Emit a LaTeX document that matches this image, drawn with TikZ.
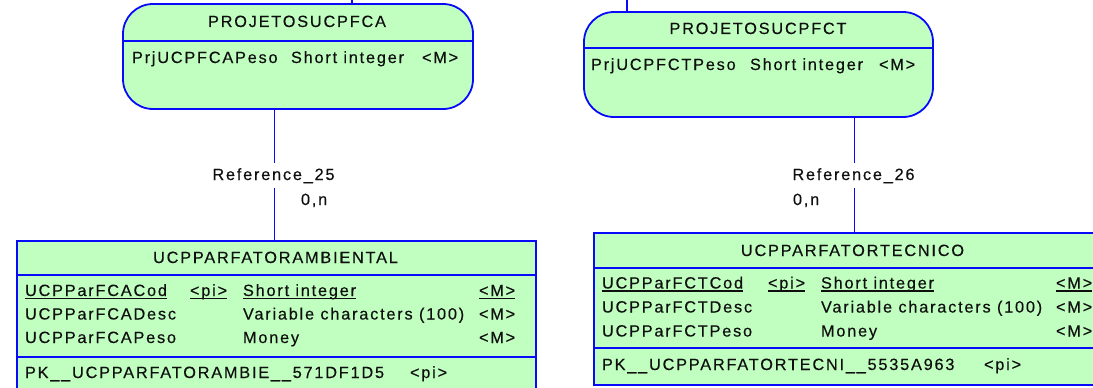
\documentclass[tikz,border=0pt]{standalone}
\usepackage{fontspec}
\usetikzlibrary{calc}
\newfontfamily\erfont[LetterSpace=11,FakeBold=0.3]{Liberation Sans}
\definecolor{erblue}{RGB}{10,10,250}
\definecolor{erfill}{RGB}{192,255,192}
\definecolor{ertext}{RGB}{15,15,15}
\begin{document}
\begin{tikzpicture}[x=1pt,y=-1pt,
  frame/.style={draw=erblue,line width=1.8pt,fill=erfill,inner sep=0pt},
  rule/.style={draw=erblue,line width=1.8pt},
  link/.style={draw=erblue,line width=1.8pt},
  lbl/.style={inner sep=0pt,outer sep=0pt,font=\erfont\fontsize{16.3}{18}\selectfont,text=ertext,anchor=base west},
  ttl/.style={lbl,anchor=base},
  uline/.style={draw=ertext,line width=1.3pt}]

\useasboundingbox (0,0) rectangle (1093,388);

% ---- entity PROJETOSUCPFCA
\node[frame,rounded corners=30pt,minimum width=350pt,minimum height=105pt] (pfca) at (298,56.5) {};
\draw[rule] ($(pfca.north west)+(0,38)$) -- ($(pfca.north east)+(0,38)$);
\node[ttl] (pfcaT) at (297,27) {PROJETOSUCPFCA};
\node[lbl] (pfcaA) at (132,63) {PrjUCPFCAPeso};
\node[lbl] (pfcaB) at (291,63) {Short integer};
\node[lbl] (pfcaC) at (422,63) {<M>};

% ---- entity PROJETOSUCPFCT
\node[frame,rounded corners=30pt,minimum width=349pt,minimum height=105pt] (pfct) at (758.5,64.5) {};
\draw[rule] ($(pfct.north west)+(0,37)$) -- ($(pfct.north east)+(0,37)$);
\node[ttl] (pfctT) at (758,34) {PROJETOSUCPFCT};
\node[lbl] (pfctA) at (591,70) {PrjUCPFCTPeso};
\node[lbl] (pfctB) at (750,70) {Short integer};
\node[lbl] (pfctC) at (879,70) {<M>};

% ---- table UCPPARFATORAMBIENTAL
\node[frame,anchor=north west,minimum width=519pt,minimum height=180pt] (fca) at (16,240) {};
\draw[rule] ($(fca.north west)+(0,35)$) -- ($(fca.north east)+(0,35)$);
\draw[rule] ($(fca.north west)+(0,117)$) -- ($(fca.north east)+(0,117)$);
\node[ttl] (fcaT) at (275.5,263) {UCPPARFATORAMBIENTAL};
\node[lbl] (fca1a) at (25,296) {UCPParFCACod};
\node[lbl] (fca1b) at (190,296) {<pi>};
\node[lbl] (fca1c) at (243,296) {Short integer};
\node[lbl] (fca1d) at (479,296) {<M>};
\node[lbl] (fca2a) at (25,319.5) {UCPParFCADesc};
\node[lbl] (fca2c) at (243,319.5) {Variable characters (100)};
\node[lbl] (fca2d) at (479,319.5) {<M>};
\node[lbl] (fca3a) at (25,343) {UCPParFCAPeso};
\node[lbl] (fca3c) at (243,343) {Money};
\node[lbl] (fca3d) at (479,343) {<M>};
\node[lbl] (fcaKa) at (25,378) {PK\_\_UCPPARFATORAMBIE\_\_571DF1D5};
\node[lbl] (fcaKb) at (410,378) {<pi>};
\foreach \n in {fca1a,fca1b,fca1c,fca1d}
  \draw[uline] ([yshift=-2.5pt]\n.base west) -- ([yshift=-2.5pt]\n.base east);

% ---- table UCPPARFATORTECNICO
\node[frame,anchor=north west,minimum width=519pt,minimum height=152pt] (fct) at (593,232) {};
\draw[rule] ($(fct.north west)+(0,36)$) -- ($(fct.north east)+(0,36)$);
\draw[rule] ($(fct.north west)+(0,116)$) -- ($(fct.north east)+(0,116)$);
\node[ttl] (fctT) at (852.5,256) {UCPPARFATORTECNICO};
\node[lbl] (fct1a) at (602,288.5) {UCPParFCTCod};
\node[lbl] (fct1b) at (768,288.5) {<pi>};
\node[lbl] (fct1c) at (821,288.5) {Short integer};
\node[lbl] (fct1d) at (1056,288.5) {<M>};
\node[lbl] (fct2a) at (602,312.5) {UCPParFCTDesc};
\node[lbl] (fct2c) at (821,312.5) {Variable characters (100)};
\node[lbl] (fct2d) at (1056,312.5) {<M>};
\node[lbl] (fct3a) at (602,336.5) {UCPParFCTPeso};
\node[lbl] (fct3c) at (821,336.5) {Money};
\node[lbl] (fct3d) at (1056,336.5) {<M>};
\node[lbl] (fctKa) at (602,370) {PK\_\_UCPPARFATORTECNI\_\_5535A963};
\node[lbl] (fctKb) at (984,370) {<pi>};
\foreach \n in {fct1a,fct1b,fct1c,fct1d}
  \draw[uline] ([yshift=-2.5pt]\n.base west) -- ([yshift=-2.5pt]\n.base east);

% ---- references
\coordinate (upA) at (352,0);
\coordinate (upB) at (627,0);
\draw[link] (upA) -- (upA |- pfca.north);
\draw[link] (upB) -- (upB |- pfct.north);

\coordinate (r25) at ([xshift=-2pt]fca.north);
\coordinate (r26) at ([xshift=1pt]fct.north);
\draw[link] (r25) -- (r25 |- pfca.south);
\draw[link] (r26) -- (r26 |- pfct.south);
\node[ttl,fill=white,inner xsep=2pt,inner ysep=5pt] (ref25) at (273.5,180) {Reference\_25};
\node[lbl] (card25) at (301,205) {0,n};
\node[ttl,fill=white,inner xsep=2pt,inner ysep=5pt] (ref26) at (853.5,180) {Reference\_26};
\node[lbl] (card26) at (793,205) {0,n};
\end{tikzpicture}
\end{document}
